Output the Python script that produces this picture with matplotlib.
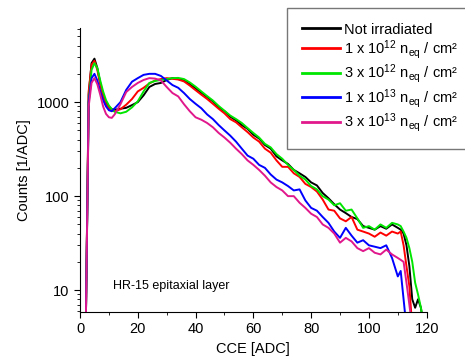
import matplotlib
matplotlib.use('Agg')
import matplotlib.pyplot as plt
import numpy as np

plt.rcParams['font.family'] = ['Liberation Sans', 'DejaVu Sans']
plt.rcParams['mathtext.fontset'] = 'custom'
plt.rcParams['mathtext.rm'] = 'Liberation Sans'
plt.rcParams['mathtext.it'] = 'Liberation Sans:italic'

nan = np.nan

# CCE grid [ADC]
cce = np.array([2, 3, 4, 5, 6, 7, 8, 9, 10, 11, 12]
               + list(range(14, 111, 2))
               + [111, 112, 113, 114, 115, 116, 117, 118, 119], dtype=float)

not_irr = [4, 1200, 2600, 2900, 2300, 1600, 1200, 1000, 900, 840, 830,
           850, 870, 930, 1000, 1180, 1450, 1560, 1600, 1720, 1800, 1760, 1700, 1550, 1400,
           1260, 1130, 1020, 880, 800, 700, 640, 570, 520, 450, 410, 350, 320, 265, 240,
           220, 190, 175, 160, 140, 130, 108, 95, 82, 72, 66, 60, 57, 48, 46, 44, 48, 45, 50, 46,
           44, 40, 30, 18, 8, 6.5, 8, 6.5, 4]
irr_1e12 = [4, 1300, 2500, 2750, 2200, 1550, 1150, 950, 860, 810, 800,
            840, 940, 1080, 1300, 1420, 1580, 1700, 1760, 1800, 1770, 1740, 1660, 1500, 1340,
            1200, 1080, 960, 850, 760, 660, 610, 540, 480, 420, 380, 320, 290, 240, 205,
            205, 175, 160, 135, 125, 112, 92, 72, 70, 58, 54, 60, 44, 42, 40, 37, 41, 38, 42, 40,
            42, 30, 18, 11, 4, nan, nan, nan, nan]
irr_3e12 = [4, 1000, 2200, 2600, 2300, 1700, 1300, 1050, 920, 840, 790,
            760, 790, 880, 1020, 1300, 1600, 1680, 1720, 1760, 1800, 1810, 1760, 1620, 1460,
            1300, 1160, 1040, 910, 810, 720, 660, 600, 530, 470, 420, 360, 330, 280, 250,
            215, 190, 165, 150, 128, 118, 100, 92, 80, 84, 70, 72, 58, 46, 48, 44, 50, 46, 52, 50,
            48, 42, 36, 28, 20, 12, 9, 6.5, 4]
irr_1e13 = [4, 1000, 1800, 2000, 1700, 1300, 1050, 900, 820, 800, 860,
            1000, 1350, 1650, 1800, 1950, 2000, 2000, 1900, 1700, 1520, 1420, 1250, 1080, 960,
            860, 740, 660, 570, 500, 440, 380, 320, 270, 250, 215, 200, 170, 150, 140,
            128, 115, 118, 90, 75, 70, 60, 52, 42, 36, 46, 38, 32, 34, 30, 29, 28, 30, 22, 14,
            16, 8, 4, nan, nan, nan, nan, nan, nan]
irr_3e13 = [4, 900, 1600, 1800, 1550, 1200, 900, 750, 690, 680, 740,
            950, 1280, 1450, 1600, 1720, 1800, 1780, 1700, 1450, 1250, 1150, 950, 800, 690,
            650, 600, 540, 470, 420, 370, 320, 280, 240, 215, 190, 165, 140, 125, 115,
            100, 100, 85, 75, 65, 60, 50, 46, 40, 32, 36, 33, 28, 26, 28, 25, 24, 27, 24, 22,
            21, 20, 12, 7, 4, nan, nan, nan, nan]

series = [
    (not_irr, 'black', 'Not irradiated'),
    (irr_1e12, '#ff0000', r'1 x 10$^{12}$ n$_{\rm eq}$ / cm²'),
    (irr_3e12, '#00e600', r'3 x 10$^{12}$ n$_{\rm eq}$ / cm²'),
    (irr_1e13, '#0000ff', r'1 x 10$^{13}$ n$_{\rm eq}$ / cm²'),
    (irr_3e13, '#e0188c', r'3 x 10$^{13}$ n$_{\rm eq}$ / cm²'),
]

fig = plt.figure(figsize=(4.65, 3.64), dpi=100)
ax = fig.add_axes([80 / 465, 1 - 311.7 / 364, 346.7 / 465, (311.7 - 28.3) / 364])

lines = []
for vals, col, lab in series:
    ln, = ax.plot(cce, vals, color=col, lw=1.4, label=lab)
    lines.append(ln)

ax.set_yscale('log')
ax.set_xlim(0, 120)
ax.set_ylim(5.9, 6100)
ax.set_xticks([0, 20, 40, 60, 80, 100, 120])
ax.set_xticks(np.arange(10, 120, 20), minor=True)
ax.set_yticks([10, 100, 1000])
ax.set_yticklabels(['10', '100', '1000'])
ax.tick_params(axis='both', which='major', direction='out', length=4, labelsize=10.5)
ax.tick_params(axis='both', which='minor', direction='out', length=2)

ax.spines['right'].set_visible(False)
ax.spines['top'].set_visible(False)

ax.set_xlabel('CCE [ADC]', fontsize=10.5)
ax.set_ylabel('Counts [1/ADC]', fontsize=10.5)

ax.text(11.5, 11.2, 'HR-15 epitaxial layer', fontsize=9, ha='left', va='center')

leg = fig.legend(handles=lines, loc='upper left', bbox_to_anchor=(287 / 465, 1 - 8 / 364),
                 fontsize=10.5, frameon=True, fancybox=False, handlelength=2.6,
                 labelspacing=0.1, borderpad=1.0, handletextpad=0.3, borderaxespad=0)
leg.get_frame().set_edgecolor('#555555')
leg.get_frame().set_linewidth(1.0)
for h in leg.get_lines():
    h.set_linewidth(2)

fig.savefig('out.png', dpi=100)
